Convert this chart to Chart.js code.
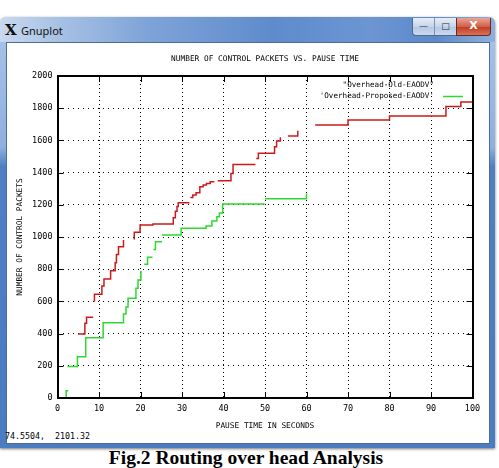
<!DOCTYPE html>
<html><head><meta charset="utf-8">
<script src="https://cdn.jsdelivr.net/npm/chart.js@4.4.1/dist/chart.umd.min.js"></script>
<style>
html,body{margin:0;padding:0;background:#fff;width:499px;height:468px;overflow:hidden;position:relative;}
#win{position:absolute;left:0;top:17px;width:495px;height:431px;border-radius:6px 6px 0 0;
 background:linear-gradient(180deg,#b4cbea 0px,#a3bfe6 30px,#8fb0de 130px,#4f7fc2 150px,#4a7cc2 100%);
 box-shadow:0 1px 3px rgba(0,0,0,.55);}
#tbar{position:absolute;left:0;top:0;width:495px;height:25px;border-radius:6px 6px 0 0;
 background:linear-gradient(90deg,#c9d9ee 0%,#a7c1e4 12%,#7ea3d8 30%,#5f8bcc 55%,#6c95d2 75%,#5d89ca 88%,#8fb0de 100%);}
#client{position:absolute;left:6px;top:25px;width:482px;height:400px;background:#fff;border:1px solid #4d6d99;}
#logo{position:absolute;left:5px;top:4px;font:bold 15px 'DejaVu Serif',serif;color:#111;}
#ttl{position:absolute;left:21px;top:6px;font:11px 'Noto Sans',sans-serif;color:#111;}
#btns{position:absolute;left:412px;top:1px;width:43px;height:17px;border:1px solid #50698f;border-top:none;border-radius:0 0 0 4px;
 background:linear-gradient(180deg,#e6eef8,#c6d5ea 50%,#b3c6e2 51%,#cbdaf0);}
#close{position:absolute;left:456px;top:1px;width:33px;height:17px;border:1px solid #6b2a20;border-top:none;border-radius:0 0 4px 0;
 background:linear-gradient(180deg,#eaa495,#d0624a 50%,#c0381e 51%,#d8735c);color:#fff;font:bold 11px 'DejaVu Sans',sans-serif;text-align:center;line-height:16px;}
.ib{position:absolute;top:0;width:21px;height:17px;text-align:center;font:9px 'DejaVu Sans',sans-serif;line-height:17px;color:#233;}
#status{position:absolute;left:5px;top:431px;font:8.3px 'DejaVu Sans Mono',monospace;color:#000;white-space:pre;}
#cap{position:absolute;left:0;top:447px;width:492px;text-align:center;font:bold 19.5px 'Liberation Serif','Times New Roman',serif;color:#000;line-height:21px;}
#c{position:absolute;left:0;top:0;}
</style></head>
<body>
<div id="win">
 <div id="tbar">
  <div id="logo">X</div><div id="ttl">Gnuplot</div>
  <div id="btns"><div class="ib" style="left:0">&#8212;</div><div class="ib" style="left:21px;border-left:1px solid #7d93b3">&#9633;</div></div>
  <div id="close">X</div>
 </div>
 <div id="client"></div>
</div>
<div id="status">74.5504,  2101.32</div>
<div id="cap">Fig.2 Routing over head Analysis</div>
<canvas id="c" width="499" height="468"></canvas>
<script>
const chartTitle = 'NUMBER OF CONTROL PACKETS VS. PAUSE TIME';
const xTitle = 'PAUSE TIME IN SECONDS';
const yTitle = 'NUMBER OF CONTROL PACKETS';
const seriesNames = ["\"Overhead-Old-EAODV\"", "'Overhead-Proposed-EAODV'"];
const xTicks = [0,10,20,30,40,50,60,70,80,90,100];
const yTicks = [0,200,400,600,800,1000,1200,1400,1600,1800,2000];
// staircase points (each y is reached by a vertical jump at its x); null = break in the line
const redX = [4.95,6.6,7.0,8.6, null, 8.9,8.9,10.7,11.2,12.8,13.9,14.2,14.7,15.9, null,
  18.5,18.5,19.9,23.0,27.9,28.4,28.8,29.1,31.8, null,
  32.0,32.6,33.4,34.3,35.1,35.9,36.8,37.8, null,
  38.6,41.8,42.3,47.7, null, 47.9,48.4,52.3,52.8,53.7, null, 55.5,57.9, null,
  62.1,70,80,93.6,97.2,100];
const redY = [397,464,501,501, null, 598,644,696,739,790,840,892,940,981, null,
  985,1030,1075,1080,1120,1160,1190,1213,1213, null,
  1246,1261,1275,1312,1323,1333,1343,1343, null,
  1349,1395,1451,1451, null, 1488,1520,1561,1596,1620, null, 1627,1660, null,
  1695,1726,1751,1810,1838,1838];
const greenX = [2.1,2.1,2.6, null, 2.4,4.8,6.8,11.0,15.9,16.5,17.0,18.9,19.4,20.1, null,
  20.9,21.7,22.9, null, 23.1,23.6,25.2, null,
  25.2,29.8,35.8,37.2,38.4,39.0,39.8,49.9, null, 50.0,60.0];
const greenY = [0,45,45, null, 195,256,375,468,522,565,619,681,733,790, null,
  830,874,874, null, 923,971,971, null,
  1012,1054,1068,1099,1126,1149,1205,1205, null, 1238,1270];

function pts(xs, ys){ return xs.map((x,i)=> (x===null? {x: xs[i-1], y: null} : {x, y: ys[i]})); }

const MONO = "'DejaVu Sans Mono', 'Liberation Mono', monospace";
const frame = {
  id:'frame',
  afterDraw(chart){
    const {ctx, chartArea:a, scales:{x,y}} = chart;
    ctx.save();
    ctx.strokeStyle = '#000'; ctx.lineWidth = 1;
    ctx.beginPath();
    xTicks.forEach(v=>{const p=Math.round(x.getPixelForValue(v))+0.5; ctx.moveTo(p,a.bottom); ctx.lineTo(p,a.bottom-6); ctx.moveTo(p,a.top); ctx.lineTo(p,a.top+6);});
    yTicks.forEach(v=>{const p=Math.round(y.getPixelForValue(v))+0.5; ctx.moveTo(a.left,p); ctx.lineTo(a.left+6,p); ctx.moveTo(a.right,p); ctx.lineTo(a.right-6,p);});
    ctx.stroke();
    ctx.lineWidth = 2;
    ctx.strokeRect(Math.round(a.left), Math.round(a.top), Math.round(a.right-a.left), Math.round(a.bottom-a.top));
    ctx.fillStyle = '#000'; ctx.textBaseline = 'middle';
    ctx.font = '7.8px ' + MONO; ctx.textAlign = 'center';
    ctx.fillText(chartTitle, (a.left+a.right)/2, 59);
    ctx.font = '7.6px ' + MONO; ctx.textAlign = 'right';
    chart.data.datasets.forEach((ds,i)=>{
      const ty = 85 + i*11;
      ctx.fillText(ds.label, 434, ty);
      if (i===1){ ctx.strokeStyle = ds.borderColor; ctx.lineWidth = 1.5; ctx.beginPath(); ctx.moveTo(443,ty+0.5); ctx.lineTo(463,ty+0.5); ctx.stroke(); }
    });
    ctx.restore();
  }
};

new Chart(document.getElementById('c'), {
  type:'line',
  data:{ datasets:[
    {label:seriesNames[0], data:pts(redX,redY), borderColor:'#cc1a1a', borderWidth:1.5, stepped:'before', pointRadius:0, fill:false, spanGaps:false},
    {label:seriesNames[1], data:pts(greenX,greenY), borderColor:'#2ed82e', borderWidth:1.5, stepped:'before', pointRadius:0, fill:false, spanGaps:false}
  ]},
  options:{
    responsive:false, animation:false, devicePixelRatio:1,
    layout:{padding:{top:76,left:14,right:26.5,bottom:36}},
    plugins:{ legend:{display:false}, tooltip:{enabled:false}, title:{display:false} },
    scales:{
      x:{type:'linear', min:0, max:100, afterFit:s=>{s.height=34;},
         afterBuildTicks:s=>{s.ticks = xTicks.map(v=>({value:v}));},
         ticks:{color:'#000', font:{family:MONO, size:8.5}, padding:6, maxRotation:0, callback:v=>String(v)},
         grid:{color:'#000', lineWidth:1, drawTicks:false},
         border:{display:false, dash:[1,3]},
         title:{display:true, text:xTitle, color:'#000', font:{family:MONO, size:7.8, lineHeight:1}, padding:{top:0,bottom:2.5}}},
      y:{min:0, max:2000, afterFit:s=>{s.width=43.5;},
         afterBuildTicks:s=>{s.ticks = yTicks.map(v=>({value:v}));},
         ticks:{color:'#000', font:{family:MONO, size:8.5}, padding:5, callback:v=>String(v)},
         grid:{color:'#000', lineWidth:1, drawTicks:false},
         border:{display:false, dash:[1,4]},
         title:{display:true, text:yTitle, color:'#000', font:{family:MONO, size:7.8, lineHeight:1}, padding:{top:2,bottom:0}}}
    }
  },
  plugins:[frame]
});
</script>
</body></html>
